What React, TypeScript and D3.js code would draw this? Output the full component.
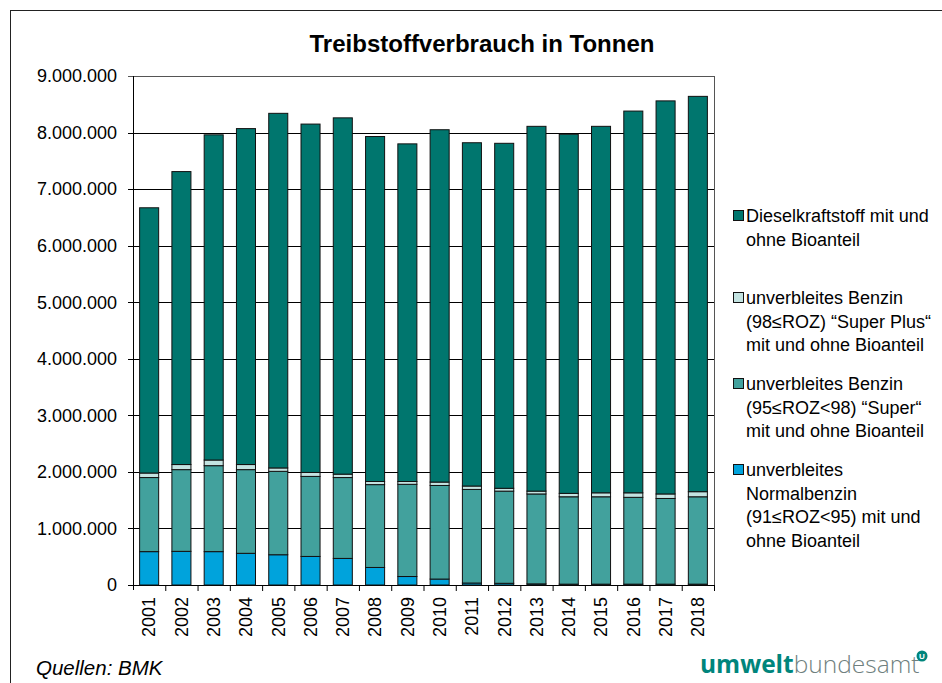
import * as d3 from "d3";

const years = ["2001", "2002", "2003", "2004", "2005", "2006", "2007", "2008", "2009", "2010", "2011", "2012", "2013", "2014", "2015", "2016", "2017", "2018"];

// tonnes per year
const normal = [590000, 595000, 590000, 560000, 535000, 505000, 470000, 310000, 150000, 105000, 35000, 30000, 20000, 15000, 15000, 15000, 15000, 15000];
const superB = [1310000, 1445000, 1520000, 1480000, 1475000, 1415000, 1430000, 1465000, 1630000, 1655000, 1655000, 1630000, 1590000, 1545000, 1545000, 1535000, 1515000, 1545000];
const superPlus = [80000, 90000, 100000, 90000, 60000, 70000, 60000, 55000, 50000, 60000, 60000, 50000, 50000, 60000, 70000, 80000, 80000, 90000];
const diesel = [4690000, 5180000, 5750000, 5940000, 6270000, 6160000, 6300000, 6100000, 5970000, 6230000, 6070000, 6100000, 6450000, 6350000, 6480000, 6750000, 6950000, 6990000];

const yTicks = [0, 1000000, 2000000, 3000000, 4000000, 5000000, 6000000, 7000000, 8000000, 9000000];

const seriesKeys = ["normal", "super", "superPlus", "diesel"];
const colors: Record<string, string> = {
  normal: "#00a3dc",
  super: "#42a19d",
  superPlus: "#c3e3e1",
  diesel: "#00766e",
};

const legend = [
  { key: "diesel", lines: ["Dieselkraftstoff mit und", "ohne Bioanteil"], y: 216 },
  { key: "superPlus", lines: ["unverbleites Benzin", "(98≤ROZ) “Super Plus“", "mit und ohne Bioanteil"], y: 298 },
  { key: "super", lines: ["unverbleites Benzin", "(95≤ROZ<98) “Super“", "mit und ohne Bioanteil"], y: 384 },
  { key: "normal", lines: ["unverbleites", "Normalbenzin", "(91≤ROZ<95) mit und", "ohne Bioanteil"], y: 470 },
];

const fmt = (v: number) => d3.format(",")(v).replace(/,/g, ".");

export default function App() {
  const W = 942, H = 683;
  const margin = { left: 133, right: 228, top: 76, bottom: 98 };

  const rows = years.map((y, i) => ({
    year: y,
    normal: normal[i],
    super: superB[i],
    superPlus: superPlus[i],
    diesel: diesel[i],
  }));
  const stack = d3.stack<any>().keys(seriesKeys)(rows);

  const x = d3.scaleBand().domain(years).range([margin.left, W - margin.right]).paddingInner(0.41).paddingOuter(0.205);
  const y = d3.scaleLinear().domain([0, 9000000]).range([H - margin.bottom, margin.top]);
  const step = x.step();
  const font = "Arial, 'Liberation Sans', sans-serif";

  return (
    <svg width={W} height={H} style={{ position: "absolute", left: 0, top: 0 }} fontFamily={font}>
      <rect x={10.5} y={10.5} width={1000} height={1000} fill="white" stroke="#222" strokeWidth={1} />
      <text x={482} y={52} textAnchor="middle" fontSize={24} fontWeight="bold">Treibstoffverbrauch in Tonnen</text>

      {yTicks.map((t) => (
        <g key={t}>
          <line x1={margin.left - 5} x2={W - margin.right} y1={Math.round(y(t)) + 0.5} y2={Math.round(y(t)) + 0.5} stroke={t === 9000000 ? "#555" : "#000"} strokeWidth={1} />
          <text x={117} y={y(t)} dy="0.35em" textAnchor="end" fontSize={18}>{fmt(t)}</text>
        </g>
      ))}

      {stack.map((s) => (
        <g key={s.key} fill={colors[s.key]}>
          {s.map((d: any) => (
            <rect key={d.data.year} x={x(d.data.year)} y={y(d[1])} width={x.bandwidth()} height={y(d[0]) - y(d[1])} stroke="#111" strokeWidth={1} />
          ))}
        </g>
      ))}

      <line x1={margin.left + 0.5} x2={margin.left + 0.5} y1={margin.top} y2={H - margin.bottom + 5} stroke="#000" />
      <line x1={W - margin.right + 0.5} x2={W - margin.right + 0.5} y1={margin.top} y2={H - margin.bottom} stroke="#555" />
      {years.map((yr, i) => (
        <line key={"t" + yr} x1={margin.left + step * (i + 1) + 0.5} x2={margin.left + step * (i + 1) + 0.5} y1={H - margin.bottom} y2={H - margin.bottom + 6} stroke="#000" />
      ))}
      {years.map((yr) => {
        const cx = (x(yr) as number) + x.bandwidth() / 2;
        return (
          <text key={"l" + yr} transform={`translate(${cx},${H - margin.bottom + 12}) rotate(-90)`} textAnchor="end" dy="0.35em" fontSize={18}>{yr}</text>
        );
      })}

      {legend.map((l) => (
        <g key={l.key}>
          <rect x={733.5} y={l.y - 5.5} width={10} height={10} fill={colors[l.key]} stroke="#111" />
          {l.lines.map((ln, j) => (
            <text key={j} x={746} y={l.y + j * 23.5} dy="0.35em" fontSize={18}>{ln}</text>
          ))}
        </g>
      ))}

      <text x={36} y={675} fontSize={20.5} fontStyle="italic">Quellen: BMK</text>
      <text x={700} y={673} fontSize={24.5} fontFamily="'Open Sans', 'DejaVu Sans', sans-serif">
        <tspan fill="#00857c" fontWeight="bold">umwelt</tspan>
        <tspan fill="#6f7f7e" fontWeight="300">bundesamt</tspan>
      </text>
      <circle cx={922} cy={656} r={5.5} fill="#00857c" />
      <text x={922} y={656} dy="0.35em" textAnchor="middle" fontSize={8} fontWeight="bold" fill="white">U</text>
    </svg>
  );
}
